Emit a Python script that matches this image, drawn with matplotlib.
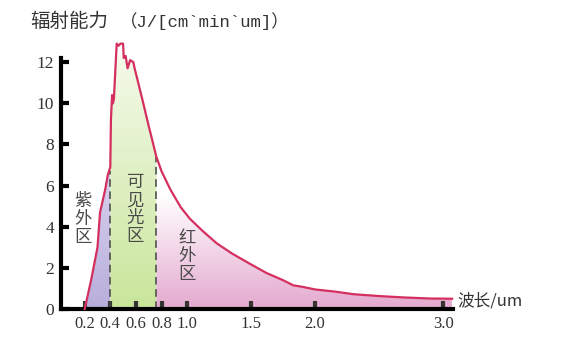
import numpy as np
import matplotlib.pyplot as plt
from matplotlib.colors import LinearSegmentedColormap

plt.rcParams['font.family'] = ['Noto Sans CJK SC', 'DejaVu Sans']

# 波长 (um) 与辐射能力
wavelength = [0.20, 0.25, 0.30, 0.32, 0.36, 0.38, 0.40, 0.405, 0.414, 0.42, 0.428,
              0.45, 0.465, 0.48, 0.50, 0.505, 0.52, 0.535, 0.555, 0.58, 0.59,
              0.65, 0.70, 0.76, 0.80, 0.87, 0.95, 1.02, 1.12, 1.23, 1.35, 1.49,
              1.62, 1.75, 1.83, 1.90, 2.00, 2.15, 2.30, 2.50, 2.70, 2.90, 3.07]
energy = [0.0, 1.4, 3.0, 4.7, 5.8, 6.5, 6.9, 9.2, 10.4, 10.0, 10.2,
          12.9, 12.8, 12.9, 12.9, 12.2, 12.3, 11.7, 12.1, 12.0, 11.7,
          10.2, 8.9, 7.4, 6.7, 5.8, 4.95, 4.4, 3.8, 3.2, 2.7, 2.2,
          1.75, 1.4, 1.15, 1.08, 0.95, 0.85, 0.72, 0.63, 0.56, 0.51, 0.50]

x_ticks = [0.2, 0.4, 0.6, 0.8, 1.0, 1.5, 2.0, 3.0]
x_tick_labels = ['0.2', '0.4', '0.6', '0.8', '1.0', '1.5', '2.0', '3.0']
y_ticks = [0, 2, 4, 6, 8, 10, 12]

# 波段: (起点, 终点, 底色, 顶色, 渐变顶端高度)
bands = [
    (0.20, 0.40, '#b7aedb', '#d9d2ee', 7.0),
    (0.40, 0.76, '#c9e69a', '#f6faee', 13.0),
    (0.76, 3.07, '#e4a9cf', '#ffffff', 5.5),
]
band_names = ['紫\n外\n区', '可\n见\n光\n区', '红\n外\n区']
name_pos = [(0.19, 4.4), (0.595, 4.85), (1.0, 2.6)]
dash_at = [(0.40, 6.7), (0.76, 7.4)]

wl = np.array(wavelength)
en = np.array(energy)

fig = plt.figure(figsize=(5.67, 3.41), dpi=100)
ax = fig.add_axes([0.1076, 0.0938, 0.692, 0.739])

for a, b, c_bottom, c_top, top in bands:
    m = (wl >= a - 1e-9) & (wl <= b + 1e-9)
    poly = ax.fill_between(wl[m], 0, en[m], color='none', lw=0)
    cmap = LinearSegmentedColormap.from_list('g', [c_bottom, c_top])
    grad = np.linspace(0, 1, 256).reshape(-1, 1)
    img = ax.imshow(grad, cmap=cmap, origin='lower', aspect='auto',
                    extent=(a, b, 0, top), zorder=1)
    img.set_clip_path(poly.get_paths()[0], transform=ax.transData)
    if top < 13:
        ax.fill_between(wl[m], top, np.maximum(en[m], top), where=en[m] > top,
                        color=c_top, lw=0, zorder=1)

ax.plot(wl, en, color='#d42f5e', lw=1.6, zorder=3, clip_on=False)

for x, h in dash_at:
    ax.plot([x, x], [0, h], color='#444444', lw=1.1, ls=(0, (5, 3)), zorder=2)

for txt, (x, y) in zip(band_names, name_pos):
    ax.text(x, y, txt, fontsize=12.5, color='#4a4a4a', ha='center', va='center',
            linespacing=1.0, zorder=4)

ax.set_xlim(0.015, 3.08)
ax.set_ylim(0, 12.25)
ax.set_xticks(x_ticks)
ax.set_xticklabels(x_tick_labels, family='Liberation Serif', fontsize=12)
ax.set_yticks(y_ticks)
ax.set_yticklabels([str(v) for v in y_ticks], family='Liberation Serif', fontsize=12.5,
                   color='#333333')
ax.tick_params(axis='both', direction='in', length=6, width=3, color='black')
ax.tick_params(axis='x', pad=5, colors='#333333')
ax.tick_params(axis='y', pad=5)
for s in ['top', 'right']:
    ax.spines[s].set_visible(False)
for s in ['left', 'bottom']:
    ax.spines[s].set_linewidth(3)
ax.spines['left'].set_bounds(0, 12.2)

ax.text(1.01, 0.0, '波长/um', transform=ax.transAxes, fontsize=12, color='#333333',
        ha='left', va='bottom')

fig.text(0.053, 0.92, '辐射能力', fontsize=14, color='#333333', va='baseline')
fig.text(0.212, 0.92, '（J/[cm`min`um]）', fontsize=12.5, color='#333333',
         va='baseline', family=['Liberation Mono', 'Noto Sans CJK SC'])

fig.savefig('out.png', dpi=100)
